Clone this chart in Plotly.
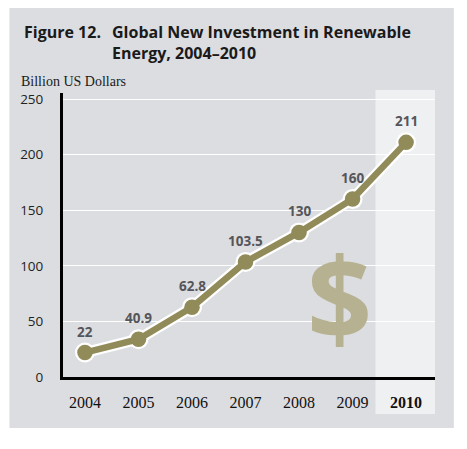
import plotly.graph_objects as go

# ---- data ----
years = [2004, 2005, 2006, 2007, 2008, 2009, 2010]
values = [22, 34, 62.8, 103.5, 130, 160, 211]
value_labels = ["22", "40.9", "62.8", "103.5", "130", "160", "211"]
tick_text = ["2004", "2005", "2006", "2007", "2008", "2009", "<b>2010</b>"]
y_ticks = [0, 50, 100, 150, 200, 250]

# ---- layout geometry (page body adds an 8px margin) ----
OFF = 8
W, H = 467 - OFF, 449 - OFF
L, R, T, B = 60 - OFF, 435 - OFF, 93 - OFF, 377 - OFF
PW, PH = R - L, B - T


def px_x(p):
    return (p - OFF - L) / PW


def px_y(p):
    return (B - (p - OFF)) / PH


OLIVE = "#918b5a"
fig = go.Figure()

fig.add_trace(go.Scatter(
    x=years, y=values, mode="lines+markers",
    line=dict(color="white", width=11),
    marker=dict(color="white", size=20),
    hoverinfo="skip", showlegend=False,
))
fig.add_trace(go.Scatter(
    x=years, y=values, mode="lines+markers",
    line=dict(color=OLIVE, width=6.5),
    marker=dict(color=OLIVE, size=15.5),
    showlegend=False,
))

annotations = []
for xv, yv, t in zip(years, values, value_labels):
    annotations.append(dict(
        x=xv, y=yv, xref="x", yref="y", text=t, showarrow=False,
        yshift=21, font=dict(family="Open Sans", size=13.5, color="#55555a", weight="bold"),
    ))

annotations += [
    dict(x=px_x(19), y=px_y(19), xref="paper", yref="paper", xanchor="left", yanchor="top",
         text="<b>Figure 12.</b>", showarrow=False, align="left",
         font=dict(family="Open Sans", size=16, color="#1a1a1a")),
    dict(x=px_x(107), y=px_y(19), xref="paper", yref="paper", xanchor="left", yanchor="top",
         text="<b>Global New Investment in Renewable<br>Energy, 2004\u20132010</b>", showarrow=False,
         align="left", font=dict(family="Open Sans", size=16, color="#1a1a1a")),
    dict(x=px_x(16), y=px_y(81), xref="paper", yref="paper", xanchor="left", yanchor="middle",
         text="Billion US Dollars", showarrow=False,
         font=dict(family="Liberation Serif", size=14, color="#1a1a1a")),
    dict(x=px_x(339), y=px_y(295), xref="paper", yref="paper", xanchor="center", yanchor="middle",
         text="<b>$</b>", showarrow=False,
         font=dict(family="Open Sans", size=114, color="#b6b291")),
]

shapes = [
    dict(type="rect", xref="paper", yref="paper", x0=px_x(6), x1=px_x(454), y0=px_y(428), y1=px_y(5),
         fillcolor="#dcdde0", line=dict(width=0), layer="below"),
    dict(type="rect", xref="paper", yref="paper", x0=px_x(375), x1=px_x(435), y0=px_y(414), y1=px_y(90),
         fillcolor="#eff0f1", line=dict(width=0), layer="below"),
]

fig.update_layout(
    width=W, height=H,
    margin=dict(l=L, r=W - R, t=T, b=H - B, pad=0),
    paper_bgcolor="white", plot_bgcolor="rgba(0,0,0,0)",
    annotations=annotations, shapes=shapes,
    xaxis=dict(
        range=[2003.59, 2010.54], tickvals=years, ticktext=tick_text,
        showgrid=False, zeroline=False, showline=True, linecolor="black", linewidth=3,
        ticks="outside", ticklen=9, tickcolor="rgba(0,0,0,0)",
        tickfont=dict(family="Liberation Serif", size=16, color="#111111"),
    ),
    yaxis=dict(
        range=[0, 255.4], tickvals=y_ticks,
        showgrid=True, gridcolor="white", gridwidth=1, zeroline=False,
        showline=True, linecolor="black", linewidth=3,
        ticks="outside", ticklen=14, tickcolor="rgba(0,0,0,0)",
        tickfont=dict(family="Open Sans", size=13.5, color="#222222"),
    ),
)

fig.write_html("out.html")
